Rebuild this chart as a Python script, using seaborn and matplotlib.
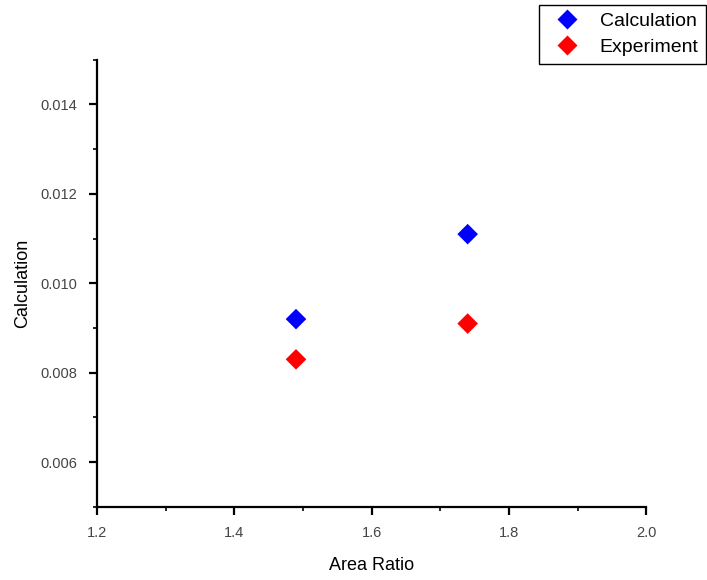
import numpy as np
import pandas as pd
import matplotlib
matplotlib.use("Agg")
import matplotlib.pyplot as plt
import seaborn as sns
from matplotlib.ticker import MultipleLocator

# Datos
area_ratio = [1.49, 1.74]
calculation = [0.0092, 0.0111]
experiment = [0.0083, 0.0091]
series = ["Calculation", "Experiment"]
colores = ["#0000ff", "#ff0000"]

df = pd.DataFrame({
    "Area Ratio": area_ratio * 2,
    "valor": calculation + experiment,
    "serie": [series[0]] * len(area_ratio) + [series[1]] * len(area_ratio),
})

sns.set_style("ticks")
plt.rcParams["font.family"] = ["Liberation Sans", "DejaVu Sans"]
plt.rcParams["text.color"] = "black"
plt.rcParams["axes.labelcolor"] = "black"

fig = plt.figure(figsize=(7.07, 5.8), dpi=100)
ax = fig.add_axes([0.137, 0.126, 0.777, 0.771])

sns.scatterplot(
    data=df,
    x="Area Ratio",
    y="valor",
    hue="serie",
    palette=colores,
    marker="D",
    s=110,
    edgecolor="none",
    ax=ax,
)

ax.set_xlim(1.2, 2.0)
ax.set_ylim(0.005, 0.015)
ax.xaxis.set_major_locator(MultipleLocator(0.2))
ax.xaxis.set_minor_locator(MultipleLocator(0.1))
ax.yaxis.set_major_locator(MultipleLocator(0.002))
ax.yaxis.set_minor_locator(MultipleLocator(0.001))
ax.xaxis.set_major_formatter(plt.FuncFormatter(lambda v, p: f"{v:.1f}"))
ax.yaxis.set_major_formatter(plt.FuncFormatter(lambda v, p: f"{v:.3f}"))

for s in ["top", "right"]:
    ax.spines[s].set_visible(False)
for s in ["left", "bottom"]:
    ax.spines[s].set_linewidth(1.6)
    ax.spines[s].set_color("black")

ax.tick_params(which="major", direction="out", length=6, width=1.6,
               labelsize=10.5, colors="black", labelcolor="#444444", pad=8)
ax.tick_params(which="minor", direction="out", length=3, width=1.2,
               colors="black")

ax.set_xlabel("Area Ratio", fontsize=13, labelpad=12)
ax.set_ylabel("Calculation", fontsize=13, labelpad=7)

handles, labels = ax.get_legend_handles_labels()
ax.legend(
    handles, labels,
    loc="upper right",
    bbox_to_anchor=(0.999, 0.992),
    bbox_transform=fig.transFigure,
    fontsize=14,
    frameon=True,
    fancybox=False,
    edgecolor="black",
    framealpha=1,
    handletextpad=0.7,
    borderpad=0.4,
    borderaxespad=0,
    labelspacing=0.42,
    markerscale=1.0,
)
ax.get_legend().get_frame().set_linewidth(1.0)

fig.savefig("out.png", dpi=100)
